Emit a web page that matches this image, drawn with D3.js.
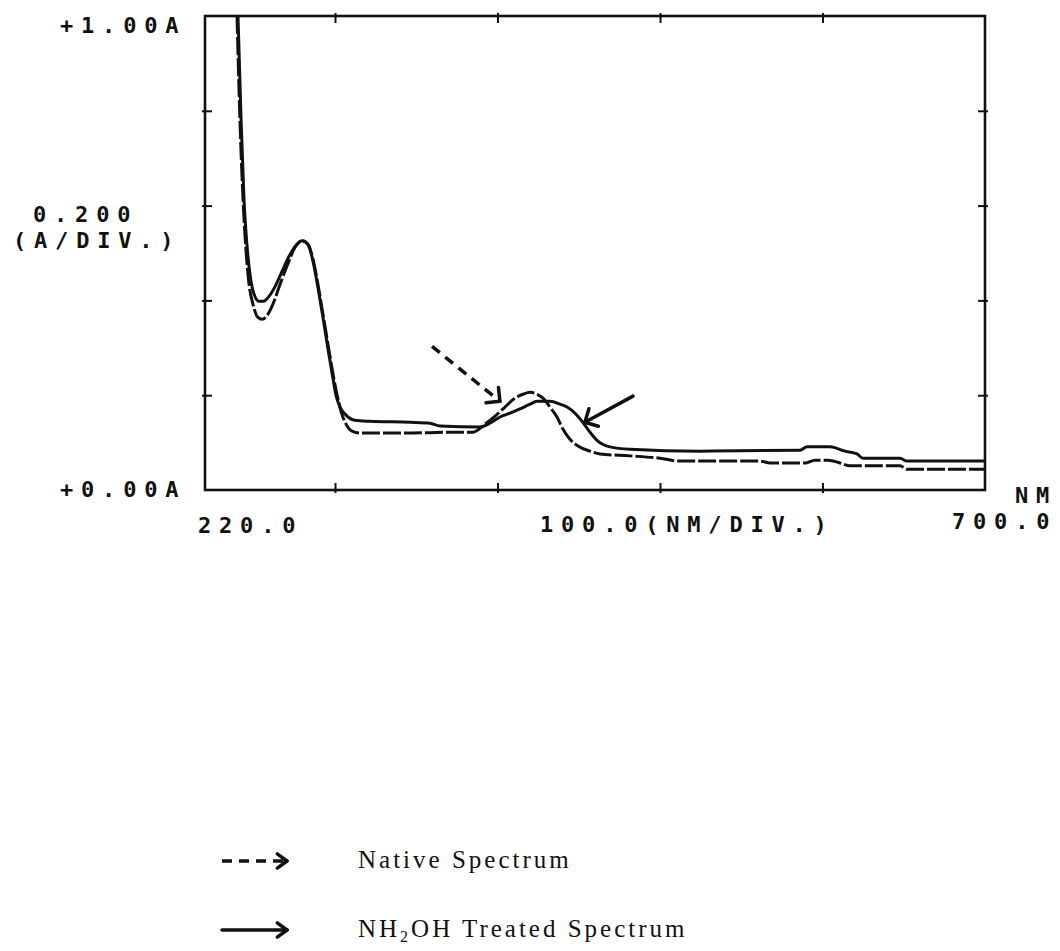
<!DOCTYPE html>
<html>
<head>
<meta charset="utf-8">
<script src="https://cdn.jsdelivr.net/npm/d3@7"></script>
<style>
  body { margin: 0; background: #fff; }
  .plotter { font-family: "DejaVu Sans Mono", monospace; font-weight: bold; font-size: 22px; letter-spacing: 7.8px; fill: #111; }
  .legend { font-family: "Liberation Serif", "Times New Roman", serif; font-size: 25px; letter-spacing: 3px; fill: #111; }
</style>
</head>
<body>
<div id="chart"></div>
<script>
// wavelength (nm) / absorbance (A)
const nativeNm = [239.7, 241.5, 243.4, 245.2, 247.1, 249.5, 252.6, 255.1, 258.2, 261.8, 266.2, 271.1, 275.4, 279.7, 283.4, 286.5, 289.5, 292.6, 295.7, 298.8, 301.2, 303.7, 306.8, 310.5, 315.4, 340, 376.9, 384.9, 392.3, 398.5, 404.6, 410.8, 415.7, 420, 424.3, 428, 432.3, 436.6, 440.3, 444.6, 449.5, 456.9, 463.1, 481.5, 500, 512.3, 561.5, 567.7, 589.2, 595.4, 603.4, 610.8, 616.9, 647.7, 652, 700];
const nativeAbs = [1.0, 0.781, 0.613, 0.507, 0.434, 0.392, 0.364, 0.36, 0.368, 0.392, 0.434, 0.478, 0.512, 0.526, 0.518, 0.486, 0.434, 0.371, 0.307, 0.244, 0.202, 0.166, 0.139, 0.124, 0.12, 0.12, 0.122, 0.122, 0.139, 0.156, 0.175, 0.194, 0.202, 0.206, 0.202, 0.194, 0.175, 0.154, 0.128, 0.107, 0.093, 0.082, 0.076, 0.072, 0.067, 0.061, 0.061, 0.057, 0.057, 0.063, 0.063, 0.057, 0.051, 0.051, 0.044, 0.044];

const treatedNm = [240.3, 242.2, 244, 245.8, 247.7, 250.2, 253.2, 255.7, 258.8, 263.1, 267.4, 271.7, 276, 279.7, 283.4, 286.5, 289.5, 292.6, 295.7, 298.8, 300.6, 303.1, 306.8, 312.3, 321.5, 346.2, 358.5, 364.6, 389.2, 395.4, 401.5, 407.7, 413.8, 420, 424.3, 432.3, 438.5, 442.8, 447.7, 452, 456.9, 461.8, 469.2, 481.5, 524.6, 586.2, 590.5, 604.6, 613.8, 621.2, 625, 647.7, 652, 700];
const treatedAbs = [1.0, 0.781, 0.613, 0.518, 0.455, 0.413, 0.398, 0.398, 0.406, 0.429, 0.461, 0.493, 0.516, 0.526, 0.518, 0.482, 0.427, 0.364, 0.297, 0.234, 0.2, 0.175, 0.158, 0.147, 0.145, 0.143, 0.141, 0.135, 0.133, 0.141, 0.154, 0.162, 0.171, 0.181, 0.187, 0.187, 0.181, 0.175, 0.162, 0.145, 0.122, 0.103, 0.091, 0.086, 0.082, 0.084, 0.091, 0.091, 0.082, 0.076, 0.067, 0.067, 0.061, 0.061];

// tick positions on the frame
const nmTicks = [300, 400, 500, 600];
const absTicks = [0.2, 0.4, 0.6, 0.8];

// annotation arrows in data units: [from nm, from A, to nm, to A]
const nativeArrow = [359.7, 0.303, 401.5, 0.187];
const treatedArrow = [483.4, 0.198, 453.8, 0.143];

const dimensions = {
    width: 1060,
    height: 951,
    margin: { top: 16, right: 75, bottom: 461, left: 205 }
};
const plotW = dimensions.width - dimensions.margin.left - dimensions.margin.right;
const plotH = dimensions.height - dimensions.margin.top - dimensions.margin.bottom;

const svg = d3.select("#chart").append("svg")
    .attr("width", dimensions.width)
    .attr("height", dimensions.height);

const xScale = d3.scaleLinear().domain([220, 700]).range([dimensions.margin.left, dimensions.margin.left + plotW]);
const yScale = d3.scaleLinear().domain([0, 1]).range([dimensions.margin.top + plotH, dimensions.margin.top]);

// frame
svg.append("rect")
    .attr("x", xScale(220)).attr("y", yScale(1))
    .attr("width", xScale(700) - xScale(220))
    .attr("height", yScale(0) - yScale(1))
    .attr("fill", "none").attr("stroke", "#111").attr("stroke-width", 2.6);

// tick crosses on all four sides
function tickAxis(axis, transform, inward) {
    const g = svg.append("g").attr("transform", transform)
        .call(axis.tickSize(3).tickFormat(""));
    g.select(".domain").remove();
    g.selectAll(".tick line").attr("stroke", "#111").attr("stroke-width", 2)
        .attr(inward.attr, inward.val);
}
tickAxis(d3.axisBottom(xScale).tickValues(nmTicks), `translate(0,${yScale(0)})`, { attr: "y1", val: -7 });
tickAxis(d3.axisTop(xScale).tickValues(nmTicks), `translate(0,${yScale(1)})`, { attr: "y1", val: 7 });
tickAxis(d3.axisLeft(yScale).tickValues(absTicks), `translate(${xScale(220)},0)`, { attr: "x1", val: 7 });
tickAxis(d3.axisRight(yScale).tickValues(absTicks), `translate(${xScale(700)},0)`, { attr: "x1", val: -7 });

// spectra
const line = d3.line().x(d => xScale(d[0])).y(d => yScale(d[1])).curve(d3.curveMonotoneX);

svg.append("path")
    .datum(nativeNm.map((n, i) => [n, nativeAbs[i]]))
    .attr("d", line)
    .attr("fill", "none").attr("stroke", "#111").attr("stroke-width", 3)
    .attr("stroke-dasharray", "18,3");

svg.append("path")
    .datum(treatedNm.map((n, i) => [n, treatedAbs[i]]))
    .attr("d", line)
    .attr("fill", "none").attr("stroke", "#111").attr("stroke-width", 3);

// arrow helper: shaft plus two barbs at the tip
function arrow(x1, y1, x2, y2, dashed, barb, spread) {
    const g = svg.append("g").attr("stroke", "#111").attr("fill", "none")
        .attr("stroke-width", 3.5).attr("stroke-linecap", "round");
    g.append("line").attr("x1", x1).attr("y1", y1).attr("x2", x2).attr("y2", y2)
        .attr("stroke-dasharray", dashed ? "10,7" : null)
        .attr("stroke-linecap", dashed ? "butt" : "round");
    const ang = Math.atan2(y1 - y2, x1 - x2);
    [-spread, spread].forEach(s => {
        g.append("line").attr("x1", x2).attr("y1", y2)
            .attr("x2", x2 + barb * Math.cos(ang + s))
            .attr("y2", y2 + barb * Math.sin(ang + s));
    });
}
arrow(xScale(nativeArrow[0]), yScale(nativeArrow[1]), xScale(nativeArrow[2]), yScale(nativeArrow[3]), true, 14, Math.PI / 4);
arrow(xScale(treatedArrow[0]), yScale(treatedArrow[1]), xScale(treatedArrow[2]), yScale(treatedArrow[3]), false, 14, Math.PI / 4);

// plotter labels
const labels = [
    { t: "+1.00A", x: 60, y: 33 },
    { t: "0.200", x: 33, y: 222 },
    { t: "(A/DIV.)", x: 13, y: 248 },
    { t: "+0.00A", x: 60, y: 497 },
    { t: "220.0", x: 198, y: 533 },
    { t: "100.0(NM/DIV.)", x: 540, y: 532 },
    { t: "NM", x: 1015, y: 503 },
    { t: "700.0", x: 952, y: 529 }
];
svg.selectAll(".plotter").data(labels).enter().append("text")
    .attr("class", "plotter")
    .attr("x", d => d.x).attr("y", d => d.y)
    .text(d => d.t);

// legend
const legendY = [861, 930];
arrow(222, legendY[0], 287, legendY[0], true, 12, Math.PI / 5);
arrow(222, legendY[1], 287, legendY[1], false, 12, Math.PI / 5);

svg.append("text").attr("class", "legend").attr("x", 358).attr("y", legendY[0] + 7).text("Native Spectrum");
const t2 = svg.append("text").attr("class", "legend").attr("x", 358).attr("y", legendY[1] + 7);
t2.append("tspan").text("NH");
t2.append("tspan").attr("font-size", "16px").attr("dy", 5).text("2");
t2.append("tspan").attr("dy", -5).text("OH Treated Spectrum");
</script>
</body>
</html>
